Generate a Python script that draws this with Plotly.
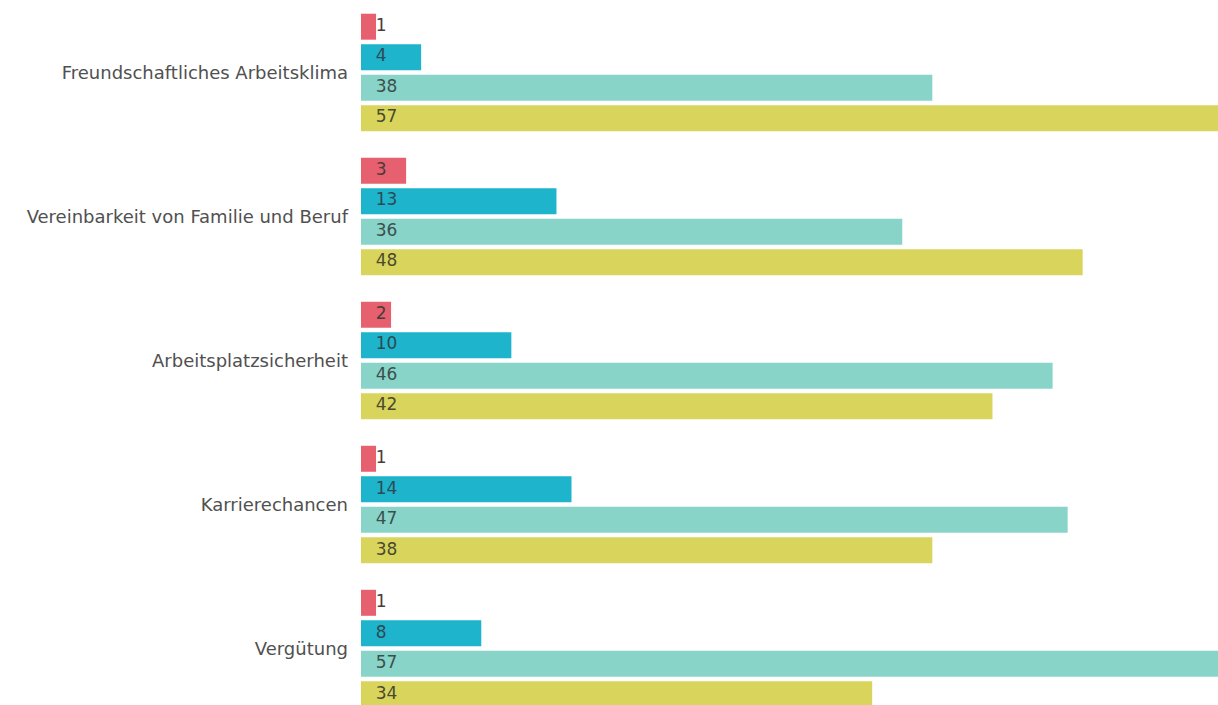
import plotly.graph_objects as go

# Survey: what matters most at the workplace (percent per answer group)
categories = [
    "Freundschaftliches Arbeitsklima",
    "Vereinbarkeit von Familie und Beruf",
    "Arbeitsplatzsicherheit",
    "Karrierechancen",
    "Vergütung",
]
series_a = [1, 3, 2, 1, 1]      # red
series_b = [4, 13, 10, 14, 8]   # cyan
series_c = [38, 36, 46, 47, 57] # teal
series_d = [57, 48, 42, 38, 34] # yellow

series = [series_a, series_b, series_c, series_d]
colors = ["#E6606F", "#1DB4CC", "#88D4C9", "#D9D55C"]
label_colors = ["#4a3a3a", "#2f4a52", "#3c4f4c", "#4a4a30"]

BAR_GAP = 0.153
GROUP_GAP = 0.148

fig = go.Figure()
for i, (vals, col) in enumerate(zip(series, colors)):
    fig.add_trace(go.Bar(
        x=vals, y=categories, orientation="h",
        marker=dict(color=col, line=dict(width=0)),
        offsetgroup=str(i), alignmentgroup="g",
        hoverinfo="skip", showlegend=False,
    ))

# value labels, grouped in the same slots as the bars
for i, (vals, lc) in enumerate(zip(series, label_colors)):
    fig.add_trace(go.Scatter(
        x=[0] * len(vals), y=categories, orientation="h",
        mode="markers+text", text=[str(v) for v in vals],
        textposition="middle right",
        marker=dict(size=22, opacity=0),
        textfont=dict(family="DejaVu Sans", size=17, color=lc),
        offsetgroup=str(i), alignmentgroup="g",
        hoverinfo="skip", showlegend=False, cliponaxis=False,
    ))

fig.update_layout(
    width=1218, height=705,
    margin=dict(l=361, r=0, t=0, b=0),
    paper_bgcolor="white", plot_bgcolor="white",
    barmode="group", bargap=BAR_GAP, bargroupgap=GROUP_GAP,
    scattermode="group", scattergap=BAR_GAP,
    xaxis=dict(range=[0, 57], visible=False, fixedrange=True),
    yaxis=dict(
        type="category", categoryorder="array", categoryarray=categories,
        range=[4.392, -0.503],
        showgrid=False, zeroline=False, showline=False, ticks="",
        ticklabelstandoff=12,
        tickfont=dict(family="DejaVu Sans", size=18, color="#505050"),
    ),
)

fig.write_html("out.html")
